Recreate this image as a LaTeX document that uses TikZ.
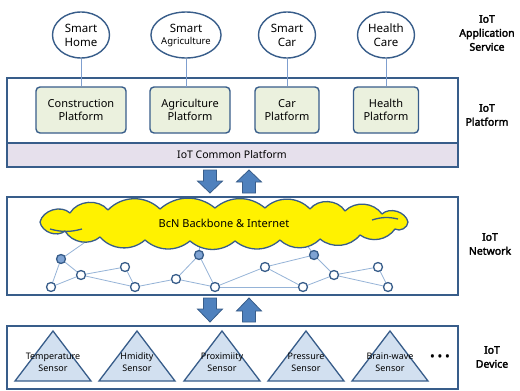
\documentclass[tikz,border=0pt]{standalone}
\usepackage{fontspec}
\setmainfont{Noto Sans}[AutoFakeBold=2.5]
\usetikzlibrary{shapes.geometric}
\definecolor{frameblue}{RGB}{56,93,138}
\definecolor{linkblue}{RGB}{127,159,207}
\definecolor{netblue}{RGB}{149,179,215}
\definecolor{dotfill}{RGB}{127,163,211}
\definecolor{platfill}{RGB}{235,241,222}
\definecolor{commonfill}{RGB}{230,224,236}
\definecolor{sensorfill}{RGB}{210,224,240}
\definecolor{arrowfill}{RGB}{79,129,189}
\tikzset{
  layerbox/.style={draw=frameblue, line width=1.6pt},
  service/.style={ellipse, draw=frameblue, line width=1.4pt, fill=white,
    minimum width=57pt, minimum height=46pt, inner sep=0pt, align=center,
    font=\fontsize{11.5}{14}\selectfont},
  platbox/.style={rectangle, rounded corners=4pt, draw=frameblue, line width=1.4pt,
    fill=platfill, minimum height=46pt, inner sep=0pt, align=center,
    font=\fontsize{11}{13}\selectfont},
  link/.style={draw=linkblue, line width=1pt},
  layerlabel/.style={align=center, font=\fontsize{10.5}{14}\selectfont\bfseries},
  netnode/.style={circle, draw=frameblue, line width=1.3pt, fill=white,
    minimum size=9pt, inner sep=0pt},
  hubnode/.style={netnode, fill=dotfill},
  netlink/.style={draw=netblue, line width=0.8pt},
  cloudline/.style={draw=frameblue, line width=1.3pt, line join=round},
  sensor/.style={draw=frameblue, line width=1.3pt, fill=sensorfill, line join=miter},
  sensortext/.style={align=center, font=\fontsize{9}{12}\selectfont},
  blockarrow/.style={draw=frameblue, line width=0.8pt, fill=arrowfill},
}
\begin{document}
\begin{tikzpicture}[x=1pt,y=-1pt]
\useasboundingbox (0,0) rectangle (520,391);

% ---------- platform layer ----------
\draw[layerbox, fill=white] (7,78) rectangle (458,167);
\draw[layerbox, fill=commonfill] (7,143) rectangle (458,167);
\node[font=\fontsize{10.5}{12}\selectfont] (common) at (232,155) {IoT Common Platform};

\node[platbox, minimum width=90pt] (pconst) at (81,110) {Construction\\Platform};
\node[platbox, minimum width=80pt] (pagri) at (190,110) {Agriculture\\Platform};
\node[platbox, minimum width=64pt] (pcar) at (287,110) {Car\\Platform};
\node[platbox, minimum width=65pt] (phealth) at (386,110) {Health\\Platform};

% ---------- application services ----------
\node[service] (shome) at (81,35) {Smart\\Home};
\node[service] (sagri) at (186,35) {Smart\\[-2pt]{\fontsize{9.5}{11}\selectfont Agriculture}};
\node[service] (scar) at (287,35) {Smart\\Car};
\node[service] (shealth) at (386,35) {Health\\Care};

\coordinate (thome) at (81,78);
\coordinate (tagri) at (186,78);
\coordinate (tcar) at (287,78);
\coordinate (thealth) at (386,78);
\coordinate (bagri) at (186,87);
\draw[link] (shome.south) -- (thome);
\draw[link] (sagri.south) -- (tagri);
\draw[link] (scar.south) -- (tcar);
\draw[link] (shealth.south) -- (thealth);
\draw[link] (thome) -- (pconst.north);
\draw[link] (tagri) -- (bagri);
\draw[link] (tcar) -- (pcar.north);
\draw[link] (thealth) -- (phealth.north);

% ---------- arrows between layers ----------
\foreach \yt/\yb in {170/193, 298/322}{
  \path[blockarrow] (203.5,\yt) -- (216.5,\yt) -- (216.5,\yt+11) -- (222.5,\yt+11)
     -- (210,\yb) -- (197.5,\yt+11) -- (203.5,\yt+11) -- cycle;
  \path[blockarrow] (242.5,\yb) -- (255.5,\yb) -- (255.5,\yb-11) -- (261.5,\yb-11)
     -- (249,\yt) -- (236.5,\yb-11) -- (242.5,\yb-11) -- cycle;
}

% ---------- network layer ----------
\draw[layerbox, fill=white] (7,197) rectangle (458,295);

\coordinate (c1) at (94,236);
\coordinate (c2) at (200,240);
\coordinate (c3) at (302,238);
\coordinate (p1) at (61,259);
\coordinate (p2) at (51,287);
\coordinate (p3) at (81,275);
\coordinate (p4) at (125,267);
\coordinate (p5) at (135,287);
\coordinate (p6) at (176,279);
\coordinate (p7) at (199,255);
\coordinate (p8) at (215,287);
\coordinate (p9) at (265,267);
\coordinate (p10) at (303,287);
\coordinate (p11) at (314,255);
\coordinate (p12) at (334,275);
\coordinate (p13) at (378,267);
\coordinate (p14) at (388,287);

% links first: the cloud and the small nodes sit on top of them
\foreach \a/\b in {c1/p1, c2/p7, c3/p11, p1/p2, p1/p3, p2/p3, p3/p4, p3/p5, p4/p5,
   p5/p6, p6/p7, p6/p8, p7/p8, p8/p9, p8/p10, p9/p10, p9/p11, p11/p12, p10/p12,
   p12/p13, p12/p14, p13/p14}
  \draw[netlink] (\a) -- (\b);

% backbone cloud: puffs along the top, then back along the bottom
\path[cloudline, fill=yellow]
  (40,222) to[bend left=60] (70,213) to[bend left=55] (108,210)
  to[bend left=45] (160,209) to[bend left=40] (215,208) to[bend left=40] (265,208)
  to[bend left=45] (310,209) to[bend left=55] (345,211) to[bend left=50] (382,214)
  to[bend left=60] (408,222) to[bend left=60] (395,229) to[bend left=45] (360,235)
  to[bend left=45] (320,239) to[bend left=45] (280,240) to[bend left=40] (235,241)
  to[bend left=40] (190,241) to[bend left=40] (145,240) to[bend left=45] (100,237)
  to[bend left=50] (65,231) to[bend left=60] cycle;
\draw[cloudline] (82,229) to[bend left=15] (50,229);
\draw[cloudline] (372,220) to[bend left=15] (398,219);
\node[font=\fontsize{11}{13}\selectfont] (cloud) at (224,223) {BcN Backbone \& Internet};

\node[hubnode] (n1) at (p1) {};
\node[netnode] (n2) at (p2) {};
\node[netnode] (n3) at (p3) {};
\node[netnode] (n4) at (p4) {};
\node[netnode] (n5) at (p5) {};
\node[netnode] (n6) at (p6) {};
\node[hubnode] (n7) at (p7) {};
\node[netnode] (n8) at (p8) {};
\node[netnode] (n9) at (p9) {};
\node[netnode] (n10) at (p10) {};
\node[hubnode] (n11) at (p11) {};
\node[netnode] (n12) at (p12) {};
\node[netnode] (n13) at (p13) {};
\node[netnode] (n14) at (p14) {};

% ---------- device layer ----------
\draw[layerbox, fill=white] (7,326) rectangle (458,389);
\foreach \cx/\name/\txt in {53/tsens/Temperature, 137/hsens/Hmidity, 222/psens/Proximiity,
   306/prsens/Pressure, 390/bsens/Brain-wave}{
  \path[sensor] (\cx-38,381) -- (\cx,331) -- (\cx+38,381) -- cycle;
  \node[sensortext] (\name) at (\cx,362) {\txt\\Sensor};
}
\node[font=\fontsize{14}{14}\selectfont] (dots) at (440,358) {\textbullet\,\textbullet\,\textbullet};

% ---------- layer labels ----------
\node[layerlabel] (lapp) at (487,33) {IoT\\Application\\Service};
\node[layerlabel] (lplat) at (487,115) {IoT\\Platform};
\node[layerlabel] (lnet) at (490,244) {IoT\\Network};
\node[layerlabel] (ldev) at (492,357) {IoT\\Device};
\end{tikzpicture}
\end{document}
